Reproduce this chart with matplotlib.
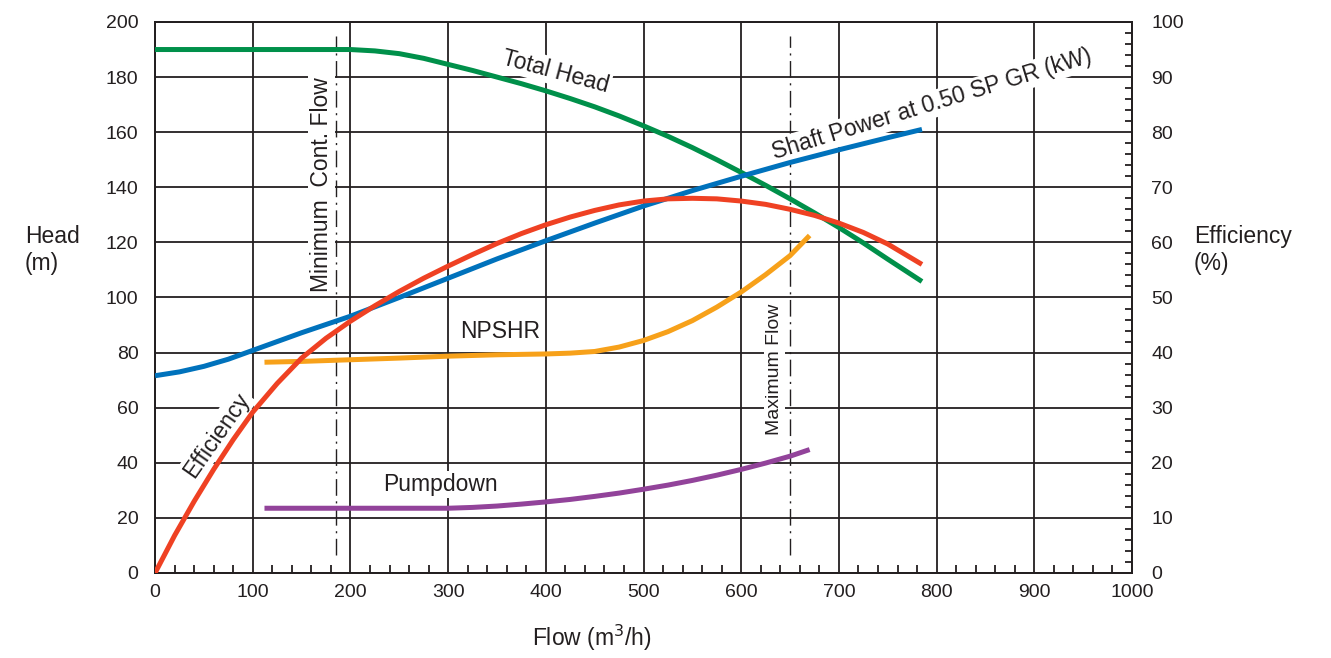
import matplotlib
matplotlib.use("Agg")
import matplotlib.pyplot as plt
from matplotlib.ticker import MultipleLocator

plt.rcParams['font.family'] = ['Liberation Sans', 'DejaVu Sans']

# Total head (m) vs flow (m3/h)
head_flow = [0, 200, 225, 250, 275, 300, 325, 350, 375, 400, 425, 450, 475, 500,
             525, 550, 575, 600, 625, 650, 675, 700, 725, 750, 785]
head_m = [190, 190, 189.5, 188.5, 186.8, 184.6, 182.4, 180, 177.6, 175, 172.2, 169.2,
          165.9, 162.3, 158.5, 154.4, 150, 145.4, 140.7, 135.8, 130.7, 125.4, 119.8,
          113.9, 105.8]

# Shaft power (kW) at 0.50 SP GR
power_flow = [0, 25, 50, 75, 100, 125, 150, 175, 200, 250, 300, 350, 400, 450, 500,
              550, 600, 650, 700, 750, 785]
power_kw = [35.8, 36.5, 37.5, 38.8, 40.4, 42, 43.6, 45.1, 46.6, 50, 53.5, 57, 60.3,
            63.5, 66.6, 69.4, 72, 74.5, 76.8, 79, 80.5]

# Efficiency (%)
eff_flow = [0, 20, 40, 60, 80, 100, 125, 150, 175, 200, 225, 250, 275, 300, 325, 350,
            375, 400, 425, 450, 475, 500, 525, 550, 575, 600, 625, 650, 675, 700, 725,
            750, 785]
eff_pct = [0, 6.8, 13, 18.8, 24.2, 29.2, 34.4, 39, 42.6, 45.7, 48.5, 51.1, 53.5,
           55.7, 57.8, 59.8, 61.6, 63.2, 64.6, 65.8, 66.8, 67.5, 67.9, 68, 67.9, 67.5,
           66.9, 66, 64.9, 63.5, 61.8, 59.7, 56]

# NPSHR (m)
npshr_flow = [112, 150, 200, 250, 300, 350, 400, 425, 450, 475, 500, 525, 550, 575,
              600, 625, 650, 670]
npshr_m = [76.5, 76.8, 77.4, 78, 78.7, 79.2, 79.5, 79.8, 80.4, 82, 84.4, 87.6, 91.6,
           96.5, 102, 108.3, 115.2, 122.5]

# Pumpdown (m)
pump_flow = [112, 200, 300, 325, 350, 375, 400, 425, 450, 475, 500, 525, 550, 575,
             600, 625, 650, 670]
pump_m = [23.5, 23.5, 23.5, 23.8, 24.3, 25, 25.8, 26.7, 27.8, 29, 30.4, 31.9, 33.6,
          35.5, 37.6, 39.9, 42.4, 44.8]

# Operating limits (m3/h)
min_cont_flow = 185
max_flow = 650

GREEN = '#00904A'
BLUE = '#0072BC'
RED = '#EF4123'
ORANGE = '#F7A11A'
PURPLE = '#92439A'
INK = '#231F20'

fig = plt.figure(figsize=(13.31, 6.58), dpi=100)
ax = fig.add_axes([0.1165, 0.1292, 0.7340, 0.8374])
ax2 = ax.twinx()

ax.set_xlim(0, 1000)
ax.set_ylim(0, 200)
ax2.set_ylim(0, 100)

ax.set_axisbelow(True)
ax.grid(True, which='major', color=INK, linewidth=1.3)
ax.xaxis.set_major_locator(MultipleLocator(100))
ax.xaxis.set_minor_locator(MultipleLocator(20))
ax.yaxis.set_major_locator(MultipleLocator(20))
ax2.yaxis.set_major_locator(MultipleLocator(10))
ax2.yaxis.set_minor_locator(MultipleLocator(2))

ax.tick_params(axis='x', which='major', length=0, pad=8, labelsize=14, colors=INK)
ax.tick_params(axis='x', which='minor', direction='in', length=6, width=1.3, color=INK)
ax.tick_params(axis='y', which='major', length=0, pad=12, labelsize=14, colors=INK)
ax2.tick_params(axis='y', which='major', length=0, pad=14, labelsize=14, colors=INK)
ax2.tick_params(axis='y', which='minor', direction='in', length=5, width=1.3, color=INK)

for a in (ax, ax2):
    for s in a.spines.values():
        s.set_color(INK)
        s.set_linewidth(1.3)

# Flow limit lines
for q in (min_cont_flow, max_flow):
    ax2.plot([q, q], [3.2, 97.5], color=INK, lw=1.0,
             linestyle=(0, (12, 4, 1.5, 4)), zorder=2)

box = dict(facecolor='white', edgecolor='none', pad=1.5)
tkw = dict(transform=ax.transData, color=INK, ha='center', va='center',
           rotation_mode='anchor', zorder=2.5, bbox=box)

ax2.text(170, 141, 'Minimum  Cont. Flow', rotation=90, fontsize=16.5, **tkw)
ax2.text(634, 74, 'Maximum Flow', rotation=90, fontsize=14, **tkw)
ax2.text(410, 182, 'Total Head', rotation=-15, fontsize=16.5, **tkw)
ax2.text(795, 170, 'Shaft Power at 0.50 SP GR (kW)', rotation=17, fontsize=16.5, **tkw)
ax2.text(63, 50, 'Efficiency', rotation=55, fontsize=16.5, **tkw)
ax2.text(353, 87.5, 'NPSHR', rotation=0, fontsize=16.5, **tkw)
ax2.text(292, 32, 'Pumpdown', rotation=0, fontsize=16.5, **tkw)

# Curves (head curves share the right-hand scale at half value)
LW = 3.6
ax2.plot(head_flow, [h / 2 for h in head_m], color=GREEN, lw=LW, solid_capstyle='butt', zorder=3)
ax2.plot(npshr_flow, [h / 2 for h in npshr_m], color=ORANGE, lw=LW, solid_capstyle='butt', zorder=3)
ax2.plot(pump_flow, [h / 2 for h in pump_m], color=PURPLE, lw=LW, solid_capstyle='butt', zorder=3)
ax2.plot(power_flow, power_kw, color=BLUE, lw=LW, solid_capstyle='butt', zorder=3)
ax2.plot(eff_flow, eff_pct, color=RED, lw=LW, solid_capstyle='butt', zorder=4)

fig.text(25 / 1331, 1 - 250 / 658, 'Head\n(m)', ha='left', va='center',
         fontsize=16.5, color=INK, linespacing=1.25)
fig.text(1194 / 1331, 1 - 250 / 658, 'Efficiency\n(%)', ha='left', va='center',
         fontsize=16.5, color=INK, linespacing=1.25)
fig.text(592 / 1331, 1 - 638 / 658, 'Flow (m$^3$/h)', ha='center', va='center',
         fontsize=16.5, color=INK)

fig.savefig('out.png', dpi=100)
